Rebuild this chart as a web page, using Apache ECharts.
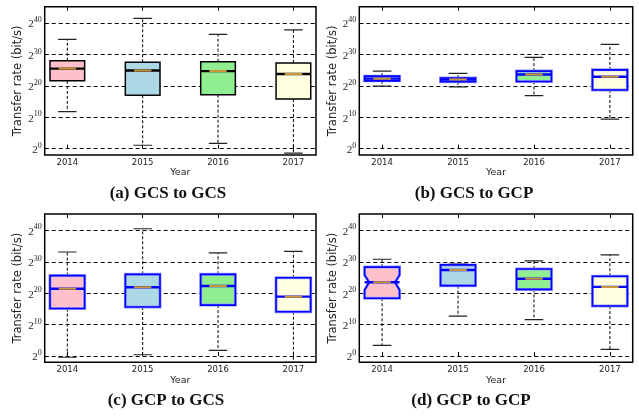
<!DOCTYPE html>
<html>
<head>
<meta charset="utf-8">
<script src="https://cdn.jsdelivr.net/npm/echarts@6/dist/echarts.min.js"></script>
<style>
html,body{margin:0;padding:0;background:#fff;}
#chart{width:639px;height:416px;}
</style>
</head>
<body>
<div id="chart"></div>
<script>
// Categories (x positions 1..4)
const years = ['2014', '2015', '2016', '2017'];
const positions = [1, 2, 3, 4];
// Y tick exponents (labels are 2^n)
const yTicks = [0, 10, 20, 30, 40];

// Box statistics per year, as log2(transfer rate in bit/s):
// [lower whisker, Q1, median, Q3, upper whisker]
const gcsToGcs = [
  [11.8, 21.6, 25.5, 28.0, 34.8],
  [1.1, 17.0, 24.9, 27.5, 41.5],
  [1.7, 17.2, 24.7, 27.7, 36.4],
  [-1.4, 15.8, 23.8, 27.3, 37.8]
];
const gcsToGcp = [
  [19.9, 21.6, 22.3, 23.1, 24.7],
  [19.7, 21.3, 22.0, 22.5, 24.0],
  [16.9, 21.4, 23.6, 24.7, 29.1],
  [9.4, 18.7, 22.9, 25.1, 33.2]
];
const gcpToGcs = [
  [-0.4, 15.1, 21.4, 25.6, 33.1],
  [0.4, 15.6, 21.9, 26.0, 40.5],
  [1.8, 16.2, 22.3, 26.0, 32.8],
  [-2.0, 14.1, 18.9, 24.9, 33.3]
];
const gcpToGcp = [
  [3.4, 18.4, 23.5, 28.3, 30.8],
  [12.7, 22.4, 27.4, 29.0, 29.3],
  [11.6, 21.2, 24.6, 27.7, 30.3],
  [2.1, 15.9, 22.0, 25.4, 32.2]
];
// Visible notch (median confidence interval) in panel (d), 2014 only
const gcpToGcpNotch = [[21.0, 25.8], null, null, null];

const boxColors = ['#ffc0cb', '#add8e6', '#90ee90', '#ffffe0'];
const captions = ['(a) GCS to GCS', '(b) GCS to GCP', '(c) GCP to GCS', '(d) GCP to GCP'];
const panelStats = [gcsToGcs, gcsToGcp, gcpToGcs, gcpToGcp];
const panelNotches = [null, null, null, gcpToGcpNotch];

const grids = [
  {left: 44.7, top: 6.7, right: 323, bottom: 261},
  {left: 359.3, top: 6.7, right: 6.3, bottom: 261},
  {left: 44.7, top: 214, right: 323, bottom: 53.7},
  {left: 359.3, top: 214, right: 6.3, bottom: 53.7}
];

function makeRender(blueStyle, notches) {
  return function (params, api) {
    const x = api.value(0);
    const lo = api.value(1), q1 = api.value(2), med = api.value(3), q3 = api.value(4), hi = api.value(5);
    const pLo = api.coord([x, lo]);
    const pQ1 = api.coord([x, q1]);
    const pMed = api.coord([x, med]);
    const pQ3 = api.coord([x, q3]);
    const pHi = api.coord([x, hi]);
    const bw = api.size([0.46, 0])[0];
    const cw = api.size([0.245, 0])[0];
    const mw = api.size([0.23, 0])[0];
    const cx = pMed[0];
    const L = cx - bw / 2, R = cx + bw / 2;
    const fill = boxColors[params.dataIndex % boxColors.length];
    const edge = blueStyle ? '#0000ff' : '#000000';
    const notch = notches ? notches[params.dataIndex] : null;
    let boxShape, boxType;
    if (notch) {
      const yLo = api.coord([x, notch[0]])[1];
      const yHi = api.coord([x, notch[1]])[1];
      const nd = bw * 0.13;
      boxType = 'polygon';
      boxShape = {points: [
        [L, pQ1[1]], [L, yLo], [L + nd, pMed[1]], [L, yHi], [L, pQ3[1]],
        [R, pQ3[1]], [R, yHi], [R - nd, pMed[1]], [R, yLo], [R, pQ1[1]]
      ]};
    } else {
      boxType = 'rect';
      boxShape = {x: L, y: pQ3[1], width: bw, height: pQ1[1] - pQ3[1]};
    }
    const children = [
      {type: 'line', shape: {x1: cx, y1: pQ1[1], x2: cx, y2: pLo[1]},
        style: {stroke: '#000', lineWidth: 1, lineDash: [3, 2]}},
      {type: 'line', shape: {x1: cx, y1: pQ3[1], x2: cx, y2: pHi[1]},
        style: {stroke: '#000', lineWidth: 1, lineDash: [3, 2]}},
      {type: 'line', shape: {x1: cx - cw / 2, y1: pLo[1], x2: cx + cw / 2, y2: pLo[1]},
        style: {stroke: '#222', lineWidth: 1.2}},
      {type: 'line', shape: {x1: cx - cw / 2, y1: pHi[1], x2: cx + cw / 2, y2: pHi[1]},
        style: {stroke: '#222', lineWidth: 1.2}}
    ];
    if (blueStyle) {
      children.push({type: boxType, shape: boxShape,
        style: {fill: fill, stroke: '#9a9aff', lineWidth: 3}});
    }
    children.push(
      {type: boxType, shape: boxShape,
        style: {fill: blueStyle ? 'none' : fill, stroke: edge, lineWidth: blueStyle ? 1.6 : 1.5}},
      {type: 'line', shape: {x1: L, y1: pMed[1], x2: R, y2: pMed[1]},
        style: {stroke: edge, lineWidth: 2.4}},
      {type: 'line', shape: {x1: cx - mw / 2, y1: pMed[1], x2: cx + mw / 2, y2: pMed[1]},
        style: {stroke: '#c9973a', lineWidth: 2}}
    );
    return {type: 'group', children: children};
  };
}

const xAxes = [], yAxes = [], series = [], graphics = [];
grids.forEach(function (g, i) {
  xAxes.push({
    type: 'value', gridIndex: i, min: 0.7, max: 4.3, position: 'bottom',
    name: 'Year', nameLocation: 'middle', nameGap: 12,
    nameTextStyle: {fontFamily: 'DejaVu Sans', fontSize: 9.5, color: '#222'},
    axisLine: {show: false},
    axisTick: {show: true, inside: true, length: 4, customValues: positions, lineStyle: {color: '#000'}},
    axisLabel: {customValues: positions, margin: 3, fontFamily: 'DejaVu Sans', fontSize: 8.5, color: '#222',
      formatter: function (v) { return years[Math.round(v) - 1] || ''; }},
    splitLine: {show: false}
  });
  xAxes.push({
    type: 'value', gridIndex: i, min: 0.7, max: 4.3, position: 'top',
    axisLine: {show: false},
    axisTick: {show: true, inside: true, length: 4, customValues: positions, lineStyle: {color: '#000'}},
    axisLabel: {show: false},
    splitLine: {show: false}
  });
  yAxes.push({
    type: 'value', gridIndex: i, min: -2, max: 45.2,
    name: 'Transfer rate (bit/s)', nameLocation: 'middle', nameGap: 17,
    nameTextStyle: {fontFamily: 'DejaVu Sans', fontSize: 11.5, color: '#222'},
    axisLine: {show: false},
    axisTick: {show: true, inside: true, length: 4, customValues: yTicks, lineStyle: {color: '#000'}},
    axisLabel: {
      customValues: yTicks, margin: 3, align: 'right',
      formatter: function (v) { return '{b|2}{s|' + v + '}'; },
      rich: {
        b: {fontFamily: 'Liberation Serif', fontSize: 11, color: '#222', verticalAlign: 'bottom', padding: [3, 0, 0, 0]},
        s: {fontFamily: 'Liberation Serif', fontSize: 8, color: '#222', verticalAlign: 'top'}
      }
    },
    splitLine: {show: true, lineStyle: {color: '#000', width: 1, type: [4, 3]}}
  });
  const stats = panelStats[i];
  series.push({
    type: 'custom', xAxisIndex: i * 2, yAxisIndex: i, clip: true,
    renderItem: makeRender(i > 0, panelNotches[i]),
    encode: {x: 0, y: [1, 2, 3, 4, 5]},
    data: positions.map(function (p, k) { return [p].concat(stats[k]); }),
    z: 3
  });
});

const captionPos = [[168, 194], [474, 194], [166, 401], [471, 401]];
captions.forEach(function (t, i) {
  graphics.push({
    type: 'text', x: captionPos[i][0], y: captionPos[i][1],
    style: {text: t, align: 'center', verticalAlign: 'middle',
      font: 'bold 17px "Liberation Serif"', fill: '#111'}
  });
});

const chart = echarts.init(document.getElementById('chart'), null, {renderer: 'canvas'});
chart.setOption({
  animation: false,
  backgroundColor: '#fff',
  grid: grids.map(function (g) {
    return Object.assign({show: true, borderColor: '#000', borderWidth: 1.5, backgroundColor: 'transparent', containLabel: false}, g);
  }),
  xAxis: xAxes,
  yAxis: yAxes,
  series: series,
  graphic: graphics
});
</script>
</body>
</html>
